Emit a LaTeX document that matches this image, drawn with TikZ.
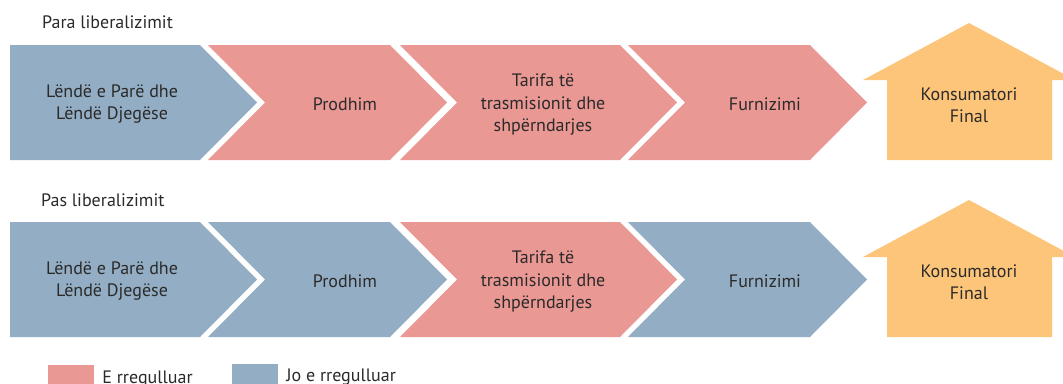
\documentclass[tikz,border=0pt]{standalone}
\usepackage{fontspec}
\setmainfont{PT Sans}
\usetikzlibrary{positioning}
\definecolor{blu}{HTML}{93AEC4}
\definecolor{rd}{HTML}{E99894}
\definecolor{org}{HTML}{FDC57A}
\definecolor{txt}{HTML}{2B2A2A}

% x0, x1 (top corners), ytop, colour
\newcommand{\chevron}[4]{%
  \fill[#4] (#1,#3) -- (#2,#3) -- ++(57,57.5) -- (#2,#3+115) -- (#1,#3+115) -- ++(57,-57.5) -- cycle;}
% ytop of row, colour of first arrow
\newcommand{\firstarrow}[2]{%
  \fill[#2] (10,#1) -- (200,#1) -- ++(57,57.5) -- (200,#1+115) -- (10,#1+115) -- cycle;}
\newcommand{\house}[1]{%
  \fill[org] (887,#1+115) -- (887,#1+35) -- (863,#1+35) -- (969,#1-22) -- (1075,#1+35) -- (1052,#1+35) -- (1052,#1+115) -- cycle;}

\begin{document}
\begin{tikzpicture}[x=1pt,y=-1pt,
  lbl/.style={align=center,text=txt,font=\fontsize{18}{22.5}\selectfont},
  ttl/.style={anchor=west,text=txt,font=\fontsize{18}{20}\selectfont,inner sep=0pt},
  key/.style={minimum width=46pt,minimum height=26pt,inner sep=0pt}]
  \useasboundingbox (0,0) rectangle (1063,383);
  \clip (0,0) rectangle (1063,383);

  % para liberalizimit
  \node[ttl] (para) at (42,22) {Para liberalizimit};
  \firstarrow{45}{blu}
  \chevron{208}{390}{45}{rd}
  \chevron{400}{620}{45}{rd}
  \chevron{628}{810}{45}{rd}
  \house{45}
  \node[lbl] (lp1) at (112,104) {Lëndë e Parë dhe\\Lëndë Djegëse};
  \node[lbl] (pr1) at (345,104) {Prodhim};
  \node[lbl] (tr1) at (543,105) {Tarifa të\\trasmisionit dhe\\shpërndarjes};
  \node[lbl] (fu1) at (765,104) {Furnizimi};
  \node[lbl] (ko1) at (969,105) {Konsumatori\\Final};

  % pas liberalizimit
  \node[ttl] (pas) at (41,200) {Pas liberalizimit};
  \firstarrow{222}{blu}
  \chevron{208}{390}{222}{blu}
  \chevron{400}{620}{222}{rd}
  \chevron{628}{810}{222}{blu}
  \house{222}
  \node[lbl] (lp2) at (112,281) {Lëndë e Parë dhe\\Lëndë Djegëse};
  \node[lbl] (pr2) at (345,281) {Prodhim};
  \node[lbl] (tr2) at (543,282) {Tarifa të\\trasmisionit dhe\\shpërndarjes};
  \node[lbl] (fu2) at (765,281) {Furnizimi};
  \node[lbl] (ko2) at (969,282) {Konsumatori\\Final};

  % legjenda
  \node[key,fill=rd] (kr) at (71,378) {};
  \node[ttl,right=8pt of kr.east,yshift=-1pt] (tkr) {E rregulluar};
  \node[key,fill=blu] (kb) at (255,377) {};
  \node[ttl,right=8pt of kb.east] (tkb) {Jo e rregulluar};
\end{tikzpicture}
\end{document}
